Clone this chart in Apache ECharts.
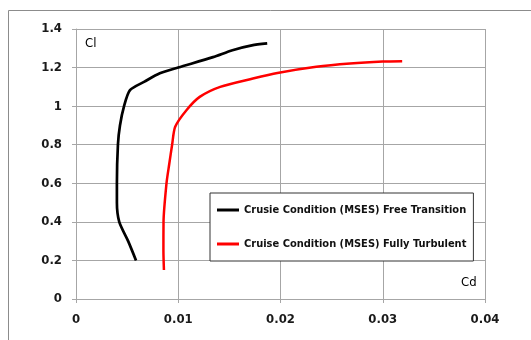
<!DOCTYPE html>
<html>
<head>
<meta charset="utf-8">
<script src="https://cdn.jsdelivr.net/npm/echarts@6/dist/echarts.min.js"></script>
<style>
html,body{margin:0;padding:0;background:#fff;}
#main{width:531px;height:340px;}
</style>
</head>
<body>
<div id="main"></div>
<script>
// Free transition (black)
var freeCd = [0.00587, 0.0051, 0.00423, 0.0040, 0.0040, 0.0041, 0.0043, 0.0047, 0.00528, 0.0067, 0.0082, 0.0100, 0.0134, 0.0153, 0.0172, 0.0187];
var freeCl = [0.2, 0.3, 0.4, 0.5, 0.6, 0.8, 0.9, 1.0, 1.083, 1.127, 1.17, 1.2, 1.254, 1.29, 1.315, 1.325];
// Fully turbulent (red)
var turbCd = [0.0086, 0.00855, 0.00856, 0.00885, 0.00912, 0.0094, 0.0097, 0.0108, 0.0121, 0.0141, 0.0173, 0.0197, 0.0235, 0.0268, 0.0300, 0.0319];
var turbCl = [0.15, 0.25, 0.4, 0.6, 0.7, 0.8, 0.893, 0.979, 1.048, 1.1, 1.143, 1.172, 1.204, 1.221, 1.231, 1.233];
var seriesNames = ['Crusie Condition (MSES) Free Transition', 'Cruise Condition (MSES) Fully Turbulent'];

var FONT = '"DejaVu Sans Condensed", "DejaVu Sans", sans-serif';

function pairs(xs, ys) {
	var out = [];
	for (var i = 0; i < xs.length; i++) {
		out.push([xs[i], ys[i]]);
	}
	return out;
}

var myChart = echarts.init(document.getElementById('main'), null, {renderer: 'canvas'});
var gridLine = {lineStyle: {color: '#a6a6a6', width: 1}};
var option = {
	animation: false,
	backgroundColor: '#fff',
	grid: {left: 76, top: 29, right: 46, bottom: 41, containLabel: false},
	xAxis: {
		type: 'value', min: 0, max: 0.04, interval: 0.01,
		axisLine: {show: true, lineStyle: {color: '#a6a6a6'}},
		axisTick: {show: true, length: 4, lineStyle: {color: '#a6a6a6'}},
		splitLine: gridLine,
		axisLabel: {margin: 14, fontFamily: FONT, fontWeight: 'bold', fontSize: 13, color: '#1a1a1a'}
	},
	yAxis: {
		type: 'value', min: 0, max: 1.4, interval: 0.2,
		axisLine: {show: true, lineStyle: {color: '#a6a6a6'}},
		axisTick: {show: true, length: 4, lineStyle: {color: '#a6a6a6'}},
		splitLine: gridLine,
		axisLabel: {margin: 14, fontFamily: FONT, fontWeight: 'bold', fontSize: 13, color: '#1a1a1a'}
	},
	legend: {
		orient: 'vertical', left: 210, top: 193,
		padding: [10, 7, 10, 7], itemGap: 20,
		itemWidth: 22, itemHeight: 3, icon: 'rect',
		borderColor: '#333', borderWidth: 1, backgroundColor: '#fff',
		textStyle: {fontFamily: FONT, fontWeight: 'bold', fontSize: 11, color: '#111', lineHeight: 14},
		data: seriesNames
	},
	graphic: [
		{type: 'rect', silent: true, shape: {x: 8.5, y: 10.5, width: 600, height: 400},
			style: {fill: 'none', stroke: '#8c8c8c', lineWidth: 1}, z: -10},
		{type: 'text', left: 85, top: 37, style: {text: 'Cl', font: '13px ' + FONT, fill: '#000'}},
		{type: 'text', left: 461, top: 276, style: {text: 'Cd', font: '13px ' + FONT, fill: '#000'}}
	],
	series: [
		{
			name: seriesNames[0], type: 'line', color: '#000',
			showSymbol: false, smooth: 0.25,
			lineStyle: {width: 2.7},
			data: pairs(freeCd, freeCl)
		},
		{
			name: seriesNames[1], type: 'line', color: '#ff0000',
			showSymbol: false, smooth: 0.25,
			lineStyle: {width: 2.5},
			data: pairs(turbCd, turbCl)
		}
	]
};
myChart.setOption(option);
</script>
</body>
</html>
